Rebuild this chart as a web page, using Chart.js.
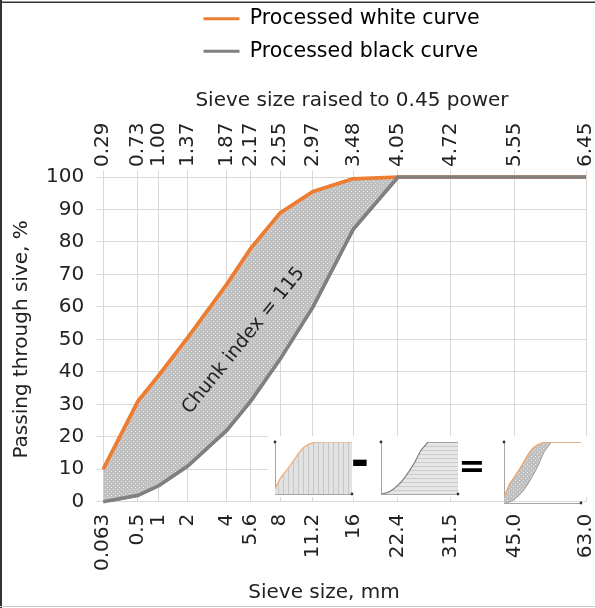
<!DOCTYPE html>
<html>
<head>
<meta charset="utf-8">
<script src="https://cdn.jsdelivr.net/npm/chart.js@4.4.0/dist/chart.umd.min.js"></script>
<style>
  html, body { margin: 0; padding: 0; background: #fff; }
  #wrap { position: relative; width: 595px; height: 608px; overflow: hidden; }
  #main { position: absolute; left: 0; top: 0; }
  .inset { position: absolute; }
</style>
</head>
<body>
<div id="wrap">
  <canvas id="main" width="622" height="608"></canvas>
  <canvas id="inset1" class="inset" width="86" height="61" style="left:271px;top:437px"></canvas>
  <canvas id="inset2" class="inset" width="86" height="61" style="left:377px;top:437px"></canvas>
  <canvas id="inset3" class="inset" width="86" height="70" style="left:500px;top:437px"></canvas>
</div>
<script>
// sieve sizes (mm) and labels
const sizesMm = [0.063, 0.5, 1, 2, 4, 5.6, 8, 11.2, 16, 22.4, 31.5, 45, 63];
const sizeLabels = ["0.063", "0.5", "1", "2", "4", "5.6", "8", "11.2", "16", "22.4", "31.5", "45.0", "63.0"];
const powerLabels = ["0.29", "0.73", "1.00", "1.37", "1.87", "2.17", "2.55", "2.97", "3.48", "4.05", "4.72", "5.55", "6.45"];

// passing through sieve, %
const whiteCurve = [10, 31, 39, 50.5, 67, 78, 89, 95.5, 99.5, 100, 100, 100, 100];
const blackCurve = [0, 2, 5, 11, 22, 31, 44, 60, 84, 100, 100, 100, 100];

const chunkIndex = 115;

const xPos = sizesMm.map(s => Math.pow(s, 0.45));
const xMin = xPos[0];
const xMax = xPos[xPos.length - 1];

const FONT = "DejaVu Sans";
const TXT = "#222";
const ORANGE = "#ED7D31";
const GREY = "#808080";
const GRID = "#d9d9d9";

Chart.defaults.font.family = FONT;
Chart.defaults.color = TXT;

function pts(vals) {
  return xPos.map((x, i) => ({ x: x, y: vals[i] }));
}

function makePattern(w, h, bg, paint) {
  const c = document.createElement("canvas");
  c.width = w;
  c.height = h;
  const g = c.getContext("2d");
  g.fillStyle = bg;
  g.fillRect(0, 0, w, h);
  paint(g);
  return g.createPattern(c, "repeat");
}

const dots = makePattern(4, 4, "#c0c0c0", g => {
  g.fillStyle = "#e4e4e4";
  g.fillRect(1, 1, 1, 1);
  g.fillRect(3, 3, 1, 1);
});
const vLines = makePattern(5, 5, "#e2e2e2", g => {
  g.fillStyle = "#c6c6c6";
  g.fillRect(2, 0, 1, 5);
});
const hLines = makePattern(5, 4, "#e6e6e6", g => {
  g.fillStyle = "#cbcbcb";
  g.fillRect(0, 1, 5, 1);
});

const xTicks = s => { s.ticks = xPos.map(v => ({ value: v })); };

// legend placement, titles, white inset box, lines over grid, annotation, frame
const extras = {
  id: "extras",
  afterLayout(chart) {
    chart.legend.left = 191.5;
    chart.legend.right = 560;
    chart.legend.top = -3.5;
  },
  beforeDraw(chart) {
    const ctx = chart.ctx;
    ctx.save();
    ctx.fillStyle = "#fff";
    ctx.fillRect(0, 0, chart.width, chart.height);
    ctx.restore();
  },
  afterDraw(chart) {
    const ctx = chart.ctx;
    const area = chart.chartArea;
    chart.getDatasetMeta(0).dataset.draw(ctx, area);
    chart.getDatasetMeta(1).dataset.draw(ctx, area);

    const xs = chart.scales.x, ys = chart.scales.y;
    ctx.save();
    ctx.translate(xs.getPixelForValue(2.08), ys.getPixelForValue(49.6));
    ctx.rotate(-51 * Math.PI / 180);
    ctx.font = "19px " + FONT;
    ctx.fillStyle = TXT;
    ctx.textAlign = "center";
    ctx.textBaseline = "middle";
    ctx.fillText("Chunk index = " + chunkIndex, 0, 0);
    ctx.restore();

    ctx.save();
    ctx.fillStyle = TXT;
    ctx.font = "20px " + FONT;
    ctx.textAlign = "center";
    ctx.textBaseline = "middle";
    ctx.fillText("Sieve size raised to 0.45 power", 352, 101);
    ctx.fillText("Sieve size, mm", 324, 593);

    ctx.fillStyle = "#fff";
    ctx.fillRect(268, 436, 360, 61);
    ctx.fillStyle = "#000";
    ctx.font = "bold 44px " + FONT;
    ctx.fillText("-", 360, 465);
    ctx.font = "bold 32px " + FONT;
    ctx.fillText("=", 472, 469);
    // picture frame
    ctx.fillStyle = "#333";
    ctx.fillRect(0, 0, 2, chart.height);
    ctx.fillRect(0, 1.5, chart.width, 1.5);
    ctx.fillStyle = "#c8c8c8";
    ctx.fillRect(0, 606, chart.width, 1);
    ctx.restore();
  }
};

new Chart(document.getElementById("main"), {
  type: "line",
  data: {
    datasets: [
      {
        label: "Processed white curve",
        data: pts(whiteCurve),
        borderColor: ORANGE,
        backgroundColor: dots,
        borderWidth: 3.5,
        pointRadius: 0,
        fill: "+1",
        xAxisID: "x",
        yAxisID: "y"
      },
      {
        label: "Processed black curve",
        data: pts(blackCurve),
        borderColor: GREY,
        backgroundColor: GREY,
        borderWidth: 3.5,
        pointRadius: 0,
        fill: false,
        xAxisID: "x",
        yAxisID: "y"
      }
    ]
  },
  options: {
    responsive: false,
    animation: false,
    events: [],
    layout: { padding: { top: 44.5, bottom: 25 } },
    plugins: {
      tooltip: { enabled: false },
      legend: {
        position: "top",
        align: "start",
        fullSize: false,
        labels: {
          boxWidth: 36,
          boxHeight: 3,
          padding: 12,
          font: { size: 20.5 },
          color: TXT,
          generateLabels: chart => chart.data.datasets.map((d, i) => ({
            text: d.label,
            fillStyle: d.borderColor,
            strokeStyle: d.borderColor,
            lineWidth: 0,
            datasetIndex: i
          }))
        }
      }
    },
    scales: {
      x: {
        type: "linear",
        position: "bottom",
        min: xMin,
        max: xMax,
        z: 1,
        afterBuildTicks: xTicks,
        ticks: {
          autoSkip: false,
          minRotation: 90,
          maxRotation: 90,
          padding: 12,
          font: { size: 20 },
          callback: (v, i) => sizeLabels[i]
        },
        grid: { color: GRID, drawTicks: false },
        border: { color: GRID }
      },
      x2: {
        type: "linear",
        position: "top",
        min: xMin,
        max: xMax,
        afterBuildTicks: xTicks,
        ticks: {
          autoSkip: false,
          minRotation: 90,
          maxRotation: 90,
          padding: 3,
          labelOffset: 24,
          font: { size: 20 },
          callback: (v, i) => powerLabels[i]
        },
        grid: { color: GRID, drawOnChartArea: false, tickLength: 7 },
        border: { display: false }
      },
      y: {
        min: 0,
        max: 100,
        z: 1,
        ticks: { stepSize: 10, padding: 12, font: { size: 20 } },
        grid: { color: GRID, tickLength: 7 },
        border: { color: GRID },
        title: {
          display: true,
          text: "Passing through sive, %",
          font: { size: 20 },
          padding: { top: 10, bottom: 0 }
        }
      }
    }
  },
  plugins: [extras]
});

// small pictures: white curve - black curve = chunk area
const axisDots = {
  id: "axisDots",
  afterDraw(chart) {
    const a = chart.chartArea, ctx = chart.ctx;
    ctx.save();
    ctx.fillStyle = "#333";
    ctx.beginPath();
    ctx.arc(a.left, a.top, 1.4, 0, Math.PI * 2);
    ctx.arc(a.right, a.bottom, 1.4, 0, Math.PI * 2);
    ctx.fill();
    ctx.restore();
  }
};

function inset(id, sets) {
  new Chart(document.getElementById(id), {
    type: "line",
    data: { datasets: sets },
    options: {
      responsive: false,
      animation: false,
      events: [],
      layout: { padding: { left: 4, top: 5, right: 5, bottom: 4 } },
      plugins: { legend: { display: false }, tooltip: { enabled: false } },
      elements: { point: { radius: 0 } },
      scales: {
        x: {
          type: "linear", min: xMin, max: xMax,
          ticks: { display: false },
          grid: { display: false, drawTicks: false },
          border: { display: true, color: "#a6a6a6" }
        },
        y: {
          min: 0, max: 100,
          ticks: { display: false },
          grid: { display: false, drawTicks: false },
          border: { display: true, color: "#a6a6a6" }
        }
      }
    },
    plugins: [axisDots]
  });
}

inset("inset1", [
  { data: pts(whiteCurve), borderColor: "#f4a870", borderWidth: 1.2, fill: "origin", backgroundColor: vLines }
]);
inset("inset2", [
  { data: pts(blackCurve), borderColor: GREY, borderWidth: 1.2, fill: "origin", backgroundColor: hLines }
]);
inset("inset3", [
  { data: pts(whiteCurve), borderColor: "#f0a060", borderWidth: 1.2, fill: "+1", backgroundColor: dots },
  { data: pts(blackCurve), borderColor: GREY, borderWidth: 1.2, fill: false }
]);
</script>
</body>
</html>
